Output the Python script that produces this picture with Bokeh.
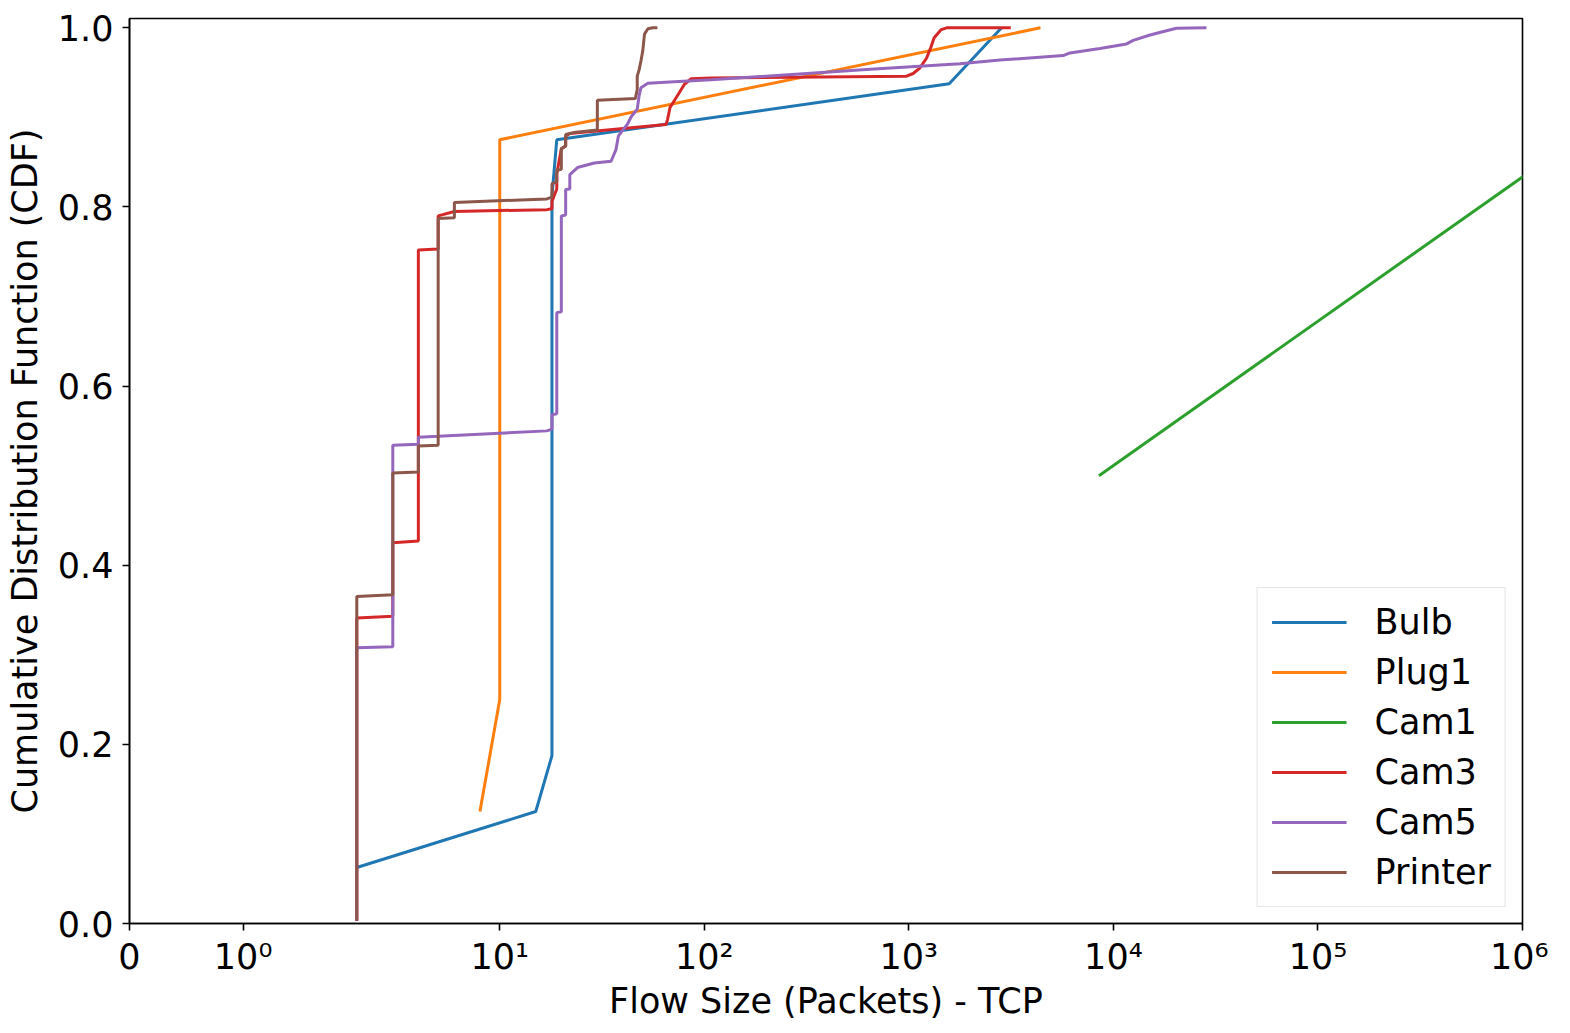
import numpy as np
from bokeh.plotting import figure
from bokeh.models import FixedTicker, CustomJSTickFormatter, PrintfTickFormatter, Range1d
from bokeh.embed import file_html
from bokeh.resources import INLINE

# ---------------- data ----------------
series_names = ["Bulb", "Plug1", "Cam1", "Cam3", "Cam5", "Printer"]
series_colors = ["#1f77b4", "#ff7f0e", "#2ca02c", "#d62728", "#9467bd", "#8c564b"]

bulb_x = [2, 15, 18, 18, 19, 1575, 2840]
bulb_y = [0.0625, 0.125, 0.1875, 0.8125, 0.875, 0.9375, 1.0]

plug1_x = [8, 10, 10, 4400]
plug1_y = [0.125, 0.25, 0.875, 1.0]

cam1_x = [8500, 10800000]
cam1_y = [0.5, 1.0]

cam3_x = [2, 2, 3, 3, 4, 4, 5, 5, 6, 17, 18, 18, 19, 19, 20, 21, 21, 22,
          65, 66, 68, 80, 86, 108, 975, 1050, 1130, 1220, 1280, 1330, 1440, 1530, 3150]
cam3_y = [0.003, 0.341, 0.343, 0.425, 0.427, 0.752, 0.753, 0.790, 0.795, 0.797, 0.798, 0.806,
          0.820, 0.837, 0.865, 0.868, 0.879, 0.882, 0.892, 0.897, 0.911, 0.937, 0.943, 0.944,
          0.946, 0.949, 0.955, 0.966, 0.978, 0.989, 0.998, 1.0, 1.0]

cam5_x = [2, 2, 3, 3, 4, 4, 5, 17, 18, 18, 19, 19, 20, 20, 21, 21, 22, 22, 24, 29, 35, 37,
          38, 40, 42, 44, 47, 48, 49, 53, 75, 108, 620, 1780, 2790, 5680, 6130, 8590,
          11600, 12500, 15100, 20300, 28500]
cam5_y = [0.003, 0.308, 0.309, 0.534, 0.535, 0.543, 0.544, 0.550, 0.552, 0.568, 0.569, 0.682,
          0.683, 0.790, 0.791, 0.8195, 0.820, 0.836, 0.844, 0.849, 0.851, 0.864,
          0.879, 0.886, 0.892, 0.901, 0.909, 0.924, 0.933, 0.938, 0.940, 0.942, 0.9535, 0.960,
          0.964, 0.969, 0.972, 0.977, 0.982, 0.986, 0.992, 0.9995, 1.0]

printer_x = [2, 2, 3, 3, 4, 4, 5, 5, 6, 6, 17, 18, 18, 19, 19, 20, 20, 21, 21, 23, 30, 30,
             46, 47, 47, 48, 49, 50, 51, 53, 56, 59]
printer_y = [0.003, 0.365, 0.367, 0.503, 0.504, 0.533, 0.534, 0.787, 0.788, 0.805, 0.809,
             0.811, 0.826, 0.828, 0.841, 0.842, 0.865, 0.868, 0.881, 0.883, 0.886, 0.919,
             0.921, 0.931, 0.946, 0.953, 0.963, 0.974, 0.993, 0.999, 1.0, 1.0]

x_tick_values = [0, 1, 10, 100, 1000, 10000, 100000, 1000000]
x_tick_labels = ["0", "10⁰", "10¹", "10²", "10³", "10⁴", "10⁵", "10⁶"]
y_tick_values = [0.0, 0.2, 0.4, 0.6, 0.8, 1.0]

x_title = "Flow Size (Packets) - TCP"
y_title = "Cumulative Distribution Function (CDF)"

all_x = [bulb_x, plug1_x, cam1_x, cam3_x, cam5_x, printer_x]
all_y = [bulb_y, plug1_y, cam1_y, cam3_y, cam5_y, printer_y]

# ---------------- symmetric-log axis transform (linthresh=2, linscale=1) ----------------
LINTHRESH = 2.0
LINSCALE_ADJ = 1.0 / (1.0 - 1.0 / 10.0)


def symlog(v):
    v = np.asarray(v, dtype=float)
    out = np.empty_like(v)
    lin = v <= LINTHRESH
    out[lin] = v[lin] / LINTHRESH * LINSCALE_ADJ
    out[~lin] = LINSCALE_ADJ + np.log10(v[~lin] / LINTHRESH)
    return out


FONT = "DejaVu Sans"
FS = "35px"

p = figure(frame_width=1393, frame_height=905,
           x_range=Range1d(0, float(symlog([1e6])[0])), y_range=Range1d(0, 1.0104),
           output_backend="svg", toolbar_location=None,
           min_border_left=129, min_border_right=26, min_border_top=18, min_border_bottom=92)
p.background_fill_color = "white"
p.border_fill_color = "white"
p.xgrid.visible = False
p.ygrid.visible = False
p.outline_line_color = "black"
p.outline_line_width = 1.6
p.outline_line_alpha = 1.0

for name, col, xs, ys in zip(series_names, series_colors, all_x, all_y):
    p.line(symlog(xs), ys, line_color=col, line_width=3, legend_label=name)

tick_pos = [float(t) for t in symlog(x_tick_values)]
p.xaxis.ticker = FixedTicker(ticks=tick_pos)
p.xaxis.formatter = CustomJSTickFormatter(args=dict(vals=tick_pos, labels=x_tick_labels), code="""
let best = 0, bd = 1e9;
for (let i = 0; i < vals.length; i++) { const d = Math.abs(vals[i] - tick); if (d < bd) { bd = d; best = i; } }
return labels[best];
""")
p.yaxis.ticker = FixedTicker(ticks=y_tick_values)
p.yaxis.formatter = PrintfTickFormatter(format="%.1f")

for ax in (p.xaxis[0], p.yaxis[0]):
    ax.axis_line_color = "black"
    ax.axis_line_width = 1.6
    ax.major_tick_line_color = "black"
    ax.major_tick_line_width = 1.6
    ax.major_tick_out = 7
    ax.major_tick_in = 0
    ax.minor_tick_line_color = None
    ax.major_label_text_font = FONT
    ax.major_label_text_font_size = FS
    ax.major_label_text_color = "black"
    ax.axis_label_text_font = FONT
    ax.axis_label_text_font_size = FS
    ax.axis_label_text_font_style = "normal"
    ax.axis_label_text_color = "black"

p.xaxis.axis_label = x_title
p.yaxis.axis_label = y_title
p.xaxis.major_label_standoff = 6
p.yaxis.major_label_standoff = 9
p.xaxis.axis_label_standoff = 1
p.yaxis.axis_label_standoff = 10

lg = p.legend[0]
lg.location = "bottom_right"
lg.margin = 16
lg.padding = 14
lg.spacing = 10
lg.glyph_width = 75
lg.glyph_height = 40
lg.label_height = 40
lg.label_standoff = 28
lg.label_text_font = FONT
lg.label_text_font_size = FS
lg.label_text_color = "black"
lg.border_line_color = "#cccccc"
lg.border_line_width = 1.5
lg.background_fill_color = "white"
lg.background_fill_alpha = 0.8

open("out.html", "w").write(file_html(p, INLINE))
